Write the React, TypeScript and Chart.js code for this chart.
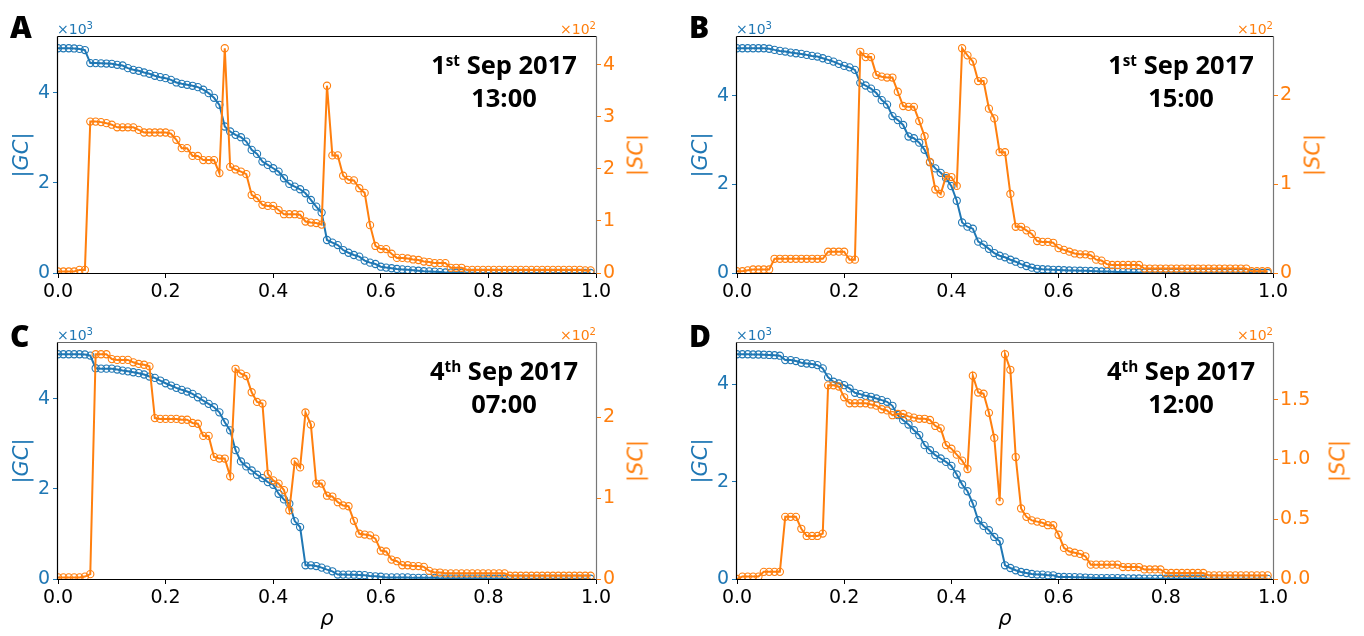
import React, { useEffect, useRef } from "react";
import { Chart, registerables } from "chart.js";

Chart.register(...registerables);

const BLUE = "#1f77b4";
const ORANGE = "#ff7f0e";

// rho grid: 0.00 .. 0.99, step 0.01
const RHO: number[] = Array.from({ length: 100 }, (_, i) => i / 100);

// Panel A — 1st Sep 2017 13:00
const GC_A = [
  4990, 4990, 4990, 4985, 4975, 4950, 4660, 4660, 4655, 4650,
  4644, 4622, 4607, 4548, 4511, 4489, 4452, 4422, 4378, 4348,
  4326, 4289, 4230, 4200, 4178, 4156, 4126, 4070, 3993, 3890,
  3733, 3252, 3141, 3067, 3015, 2918, 2733, 2644, 2474, 2400,
  2326, 2252, 2104, 1978, 1918, 1859, 1770, 1622, 1474, 1341,
  733, 675, 620, 510, 450, 400, 363, 275, 230, 200,
  140, 120, 105, 90, 80, 70, 60, 50, 40, 35,
  30, 20, 12, 8, 5, 4, 3, 3, 2, 2,
  2, 2, 1, 1, 1, 1, 1, 1, 1, 1,
  1, 1, 1, 1, 1, 1, 1, 1, 1, 1,
];
const SC_A = [
  3, 3, 3, 3, 6, 6, 291, 291, 290, 288,
  285, 280, 280, 280, 280, 275, 270, 270, 270, 270,
  270, 268, 256, 240, 240, 225, 225, 217, 217, 217,
  192, 432, 204, 199, 195, 190, 150, 144, 131, 129,
  129, 121, 113, 113, 113, 112, 99, 97, 96, 93,
  360, 226, 226, 187, 179, 178, 163, 154, 92, 52,
  46, 46, 37, 29, 29, 28, 26, 25, 22, 21,
  19, 19, 19, 10, 10, 10, 6, 6, 6, 6,
  6, 6, 6, 6, 6, 6, 6, 6, 6, 6,
  6, 6, 6, 6, 6, 6, 6, 6, 5, 5,
];

// Panel B — 1st Sep 2017 15:00
const GC_B = [
  5071, 5071, 5071, 5071, 5071, 5071, 5060, 5034, 5011, 4996,
  4973, 4958, 4943, 4921, 4898, 4883, 4845, 4808, 4770, 4718,
  4673, 4640, 4583, 4290, 4230, 4160, 4060, 3900, 3800, 3540,
  3450, 3340, 3080, 3040, 2940, 2780, 2500, 2360, 2260, 2140,
  1960, 1630, 1140, 1045, 1000, 707, 640, 545, 450, 390,
  354, 300, 255, 200, 158, 120, 95, 85, 80, 72,
  68, 62, 58, 55, 52, 50, 45, 40, 35, 32,
  30, 25, 20, 15, 12, 10, 8, 5, 5, 4,
  4, 3, 3, 3, 2, 2, 2, 2, 2, 2,
  1, 1, 1, 1, 1, 1, 1, 1, 1, 1,
];
const SC_B = [
  2, 2, 3, 4, 4, 4, 4, 16, 16, 16,
  16, 16, 16, 16, 16, 16, 16, 24, 24, 24,
  24, 15, 15, 249, 243, 243, 223, 221, 220, 220,
  204, 188, 187, 187, 171, 154, 125, 94, 89, 109,
  108, 98, 253, 245, 238, 216, 216, 185, 174, 136,
  136, 89, 52, 52, 48, 44, 36, 35, 35, 34,
  28, 26, 24, 22, 21, 21, 20, 15, 14, 10,
  9, 9, 9, 9, 9, 9, 5, 5, 5, 5,
  5, 5, 5, 5, 5, 5, 5, 5, 5, 5,
  5, 5, 5, 5, 5, 5, 2, 2, 2, 2,
];

// Panel C — 4th Sep 2017 07:00
const GC_C = [
  4990, 4990, 4990, 4990, 4990, 4985, 4960, 4680, 4670, 4670,
  4670, 4650, 4627, 4610, 4590, 4570, 4540, 4495, 4465, 4406,
  4346, 4295, 4244, 4200, 4162, 4111, 4035, 3962, 3889, 3814,
  3700, 3480, 3300, 2860, 2610, 2499, 2410, 2315, 2240, 2151,
  2093, 1893, 1767, 1672, 1286, 1153, 304, 304, 288, 253,
  208, 171, 100, 98, 97, 95, 90, 85, 65, 60,
  50, 35, 35, 35, 35, 35, 25, 25, 25, 25,
  25, 10, 10, 10, 10, 10, 10, 10, 10, 10,
  5, 5, 5, 5, 5, 5, 5, 5, 5, 5,
  5, 5, 5, 5, 5, 5, 5, 5, 5, 5,
];
const SC_C = [
  2, 2, 2, 2, 2, 3, 6, 278, 278, 278,
  272, 271, 271, 271, 268, 266, 265, 263, 199, 198,
  198, 198, 198, 197, 197, 193, 192, 177, 177, 151,
  149, 149, 127, 260, 254, 251, 231, 219, 217, 130,
  122, 118, 110, 85, 145, 138, 206, 191, 118, 118,
  103, 102, 95, 91, 90, 72, 56, 55, 54, 50,
  35, 34, 24, 22, 17, 17, 16, 16, 15, 10,
  8, 8, 7, 7, 7, 7, 7, 7, 7, 7,
  7, 7, 7, 7, 4, 4, 4, 4, 4, 4,
  4, 4, 4, 4, 4, 4, 4, 4, 4, 4,
];

// Panel D — 4th Sep 2017 12:00
const GC_D = [
  4620, 4620, 4620, 4615, 4615, 4610, 4605, 4600, 4590, 4500,
  4500, 4480, 4444, 4430, 4417, 4397, 4329, 4144, 4054, 4020,
  3985, 3917, 3827, 3800, 3765, 3745, 3711, 3677, 3642, 3560,
  3368, 3265, 3176, 3059, 2957, 2751, 2648, 2545, 2477, 2407,
  2325, 2148, 1942, 1804, 1551, 1208, 1091, 1002, 864, 776,
  282, 226, 179, 144, 123, 103, 91, 91, 76, 76,
  41, 41, 40, 38, 35, 30, 25, 20, 20, 20,
  20, 18, 15, 12, 10, 10, 8, 8, 6, 6,
  5, 5, 5, 5, 5, 5, 5, 5, 5, 5,
  3, 3, 3, 3, 3, 3, 3, 3, 3, 3,
];
const SC_D = [
  0, 2, 2, 2, 2, 6, 6, 6, 6, 52,
  52, 52, 42, 36, 36, 36, 38, 162, 162, 161,
  152, 147, 147, 147, 147, 146, 145, 142, 141, 137,
  138, 138, 136, 135, 134, 134, 133, 128, 126, 112,
  109, 104, 99, 92, 170, 156, 155, 139, 118, 65,
  188, 175, 102, 59, 52, 49, 48, 47, 45, 45,
  37, 26, 23, 22, 21, 19, 12, 12, 12, 12,
  12, 12, 10, 10, 10, 10, 8, 8, 8, 8,
  5, 5, 5, 5, 5, 5, 5, 5, 3, 3,
  3, 3, 3, 3, 3, 3, 3, 3, 3, 3,
];

// tick values
const X_TICKS = [0, 0.2, 0.4, 0.6, 0.8, 1.0];
const GC_TICKS = [0, 2000, 4000];
const SC_TICKS_A = [0, 100, 200, 300, 400];
const SC_TICKS_BC = [0, 100, 200];
const SC_TICKS_D = [0, 50, 100, 150];

type PanelCfg = {
  letter: string;
  gc: number[];
  sc: number[];
  scTicks: number[];
  scDecimals: number;
  dateMain: string;
  dateSup: string;
  time: string;
  canvas: { x: number; y: number; w: number; h: number };
  area: { l: number; r: number; t: number; b: number };
  xLabel: boolean;
  scTitleX: number;
  topColor: string;
};

const PANELS: PanelCfg[] = [
  {
    letter: "A", gc: GC_A, sc: SC_A, scTicks: SC_TICKS_A, scDecimals: 0,
    dateMain: "1", dateSup: "st", time: "13:00",
    canvas: { x: 0, y: 0, w: 682, h: 318 },
    area: { l: 58, r: 596, t: 37, b: 273 }, xLabel: false, scTitleX: 636, topColor: "#000",
  },
  {
    letter: "B", gc: GC_B, sc: SC_B, scTicks: SC_TICKS_BC, scDecimals: 0,
    dateMain: "1", dateSup: "st", time: "15:00",
    canvas: { x: 682, y: 0, w: 682, h: 318 },
    area: { l: 737, r: 1273, t: 37, b: 273 }, xLabel: false, scTitleX: 1313, topColor: "#000",
  },
  {
    letter: "C", gc: GC_C, sc: SC_C, scTicks: SC_TICKS_BC, scDecimals: 0,
    dateMain: "4", dateSup: "th", time: "07:00",
    canvas: { x: 0, y: 318, w: 682, h: 318 },
    area: { l: 58, r: 596, t: 343, b: 579 }, xLabel: true, scTitleX: 636, topColor: "#666",
  },
  {
    letter: "D", gc: GC_D, sc: SC_D, scTicks: SC_TICKS_D, scDecimals: 1,
    dateMain: "4", dateSup: "th", time: "12:00",
    canvas: { x: 682, y: 318, w: 682, h: 318 },
    area: { l: 737, r: 1273, t: 343, b: 579 }, xLabel: true, scTitleX: 1338, topColor: "#666",
  },
];

const TICK_FONT = { family: "'DejaVu Sans', sans-serif", size: 19 };

const framePlugin = {
  id: "frame",
  afterDatasetsDraw(chart: any, _args: any, opts: any) {
    const { ctx, chartArea } = chart;
    const l = Math.round(chartArea.left) - 0.5;
    const r = Math.round(chartArea.right) + 0.5;
    const t = Math.round(chartArea.top) - 0.5;
    const b = Math.round(chartArea.bottom) + 0.5;
    ctx.save();
    ctx.lineWidth = 1.2;
    ctx.strokeStyle = opts.topColor || "#000";
    ctx.beginPath(); ctx.moveTo(l, t); ctx.lineTo(r, t); ctx.stroke();
    ctx.strokeStyle = "#000";
    ctx.beginPath(); ctx.moveTo(l, t); ctx.lineTo(l, b); ctx.lineTo(r, b); ctx.stroke();
    ctx.strokeStyle = "#777";
    ctx.beginPath(); ctx.moveTo(r, t); ctx.lineTo(r, b); ctx.stroke();
    ctx.restore();
  },
};

function Panel({ p }: { p: PanelCfg }) {
  const ref = useRef<HTMLCanvasElement>(null);
  useEffect(() => {
    const c = p.canvas;
    const leftW = p.area.l - c.x;
    const rightW = c.x + c.w - p.area.r;
    const padTop = p.area.t - c.y;
    const xH = c.y + c.h - p.area.b;
    const gcMax = Math.max(...p.gc) * 1.05;
    const scMax = Math.max(...p.sc) * 1.05;
    const common = {
      borderWidth: 2,
      pointRadius: 3.6,
      pointBorderWidth: 1.1,
      pointBackgroundColor: "rgba(0,0,0,0)",
      tension: 0,
      fill: false,
    };
    const chart = new Chart(ref.current as HTMLCanvasElement, {
      type: "line",
      data: {
        datasets: [
          {
            ...common,
            label: "|SC|",
            data: RHO.map((x, i) => ({ x, y: p.sc[i] })),
            yAxisID: "y1",
            borderColor: ORANGE,
            pointBorderColor: ORANGE,
            order: 0,
          },
          {
            ...common,
            label: "|GC|",
            data: RHO.map((x, i) => ({ x, y: p.gc[i] })),
            yAxisID: "y",
            borderColor: BLUE,
            pointBorderColor: BLUE,
            order: 1,
          },
        ],
      } as any,
      options: {
        responsive: false,
        animation: false,
        devicePixelRatio: 1,
        layout: { padding: { top: padTop, left: 0, right: 0, bottom: 0 } },
        plugins: {
          legend: { display: false },
          tooltip: { enabled: false },
          frame: { topColor: p.topColor },
        } as any,
        scales: {
          x: {
            type: "linear",
            min: 0,
            max: 1,
            afterBuildTicks: (s: any) => {
              s.ticks = X_TICKS.map((v) => ({ value: v }));
            },
            ticks: {
              callback: (v: any) => Number(v).toFixed(1),
              color: "#000",
              font: TICK_FONT,
              padding: 3,
              maxRotation: 0,
              autoSkip: false,
            },
            grid: { drawOnChartArea: false, drawTicks: true, tickLength: 5, color: "#000", tickColor: "#000" },
            border: { display: false },
            afterFit: (s: any) => { s.height = xH; },
          },
          y: {
            type: "linear",
            position: "left",
            min: 0,
            max: gcMax,
            afterBuildTicks: (s: any) => {
              s.ticks = GC_TICKS.map((v) => ({ value: v }));
            },
            ticks: {
              callback: (v: any) => String(Number(v) / 1000),
              color: BLUE,
              font: TICK_FONT,
              padding: 3,
              autoSkip: false,
            },
            grid: { drawOnChartArea: false, drawTicks: true, tickLength: 5, color: BLUE, tickColor: BLUE },
            border: { display: false },
            afterFit: (s: any) => { s.width = leftW; },
          },
          y1: {
            type: "linear",
            position: "right",
            min: 0,
            max: scMax,
            afterBuildTicks: (s: any) => {
              s.ticks = p.scTicks.map((v) => ({ value: v }));
            },
            ticks: {
              callback: (v: any) => (Number(v) / 100).toFixed(p.scDecimals),
              color: ORANGE,
              font: TICK_FONT,
              padding: 2,
              autoSkip: false,
            },
            grid: { drawOnChartArea: false, drawTicks: true, tickLength: 5, color: ORANGE, tickColor: ORANGE },
            border: { display: false },
            afterFit: (s: any) => { s.width = rightW; },
          },
        },
      } as any,
      plugins: [framePlugin],
    });
    return () => chart.destroy();
  }, [p]);

  const c = p.canvas;
  const a = p.area;
  const cx = a.r - 92;
  const midY = (a.t + a.b) / 2;
  const dj = "'DejaVu Sans', sans-serif";
  const os = "'Open Sans', sans-serif";
  const letterTop = a.t < 100 ? a.t - 25 : a.t - 22;
  return (
    <>
      <canvas
        ref={ref}
        width={c.w}
        height={c.h}
        style={{ position: "absolute", left: c.x, top: c.y, width: c.w, height: c.h }}
      />
      {/* panel letter */}
      <div style={{ position: "absolute", left: a.l - 48, top: letterTop, font: `800 30px ${os}`, lineHeight: 1, color: "#000" }}>
        {p.letter}
      </div>
      {/* offset texts */}
      <div style={{ position: "absolute", left: a.l - 1, top: a.t - 15, font: `14px ${dj}`, lineHeight: 1, color: BLUE, whiteSpace: "nowrap" }}>
        ×10<span style={{ fontSize: "0.72em", position: "relative", top: "-0.45em" }}>3</span>
      </div>
      <div style={{ position: "absolute", right: 1364 - a.r, top: a.t - 15, font: `14px ${dj}`, lineHeight: 1, color: ORANGE, whiteSpace: "nowrap" }}>
        ×10<span style={{ fontSize: "0.72em", position: "relative", top: "-0.45em" }}>2</span>
      </div>
      {/* axis titles */}
      <div style={{ position: "absolute", left: a.l - 37, top: midY, transform: "translate(-50%, -50%) rotate(-90deg)", font: `21px ${dj}`, lineHeight: 1, color: BLUE, whiteSpace: "nowrap" }}>
        |<i>GC</i>|
      </div>
      <div style={{ position: "absolute", left: p.scTitleX, top: midY, transform: "translate(-50%, -50%) rotate(-90deg)", font: `21px ${dj}`, lineHeight: 1, color: ORANGE, whiteSpace: "nowrap" }}>
        |<i>SC</i>|
      </div>
      {/* annotation */}
      <div style={{ position: "absolute", left: cx, top: a.t + 15, transform: "translateX(-50%)", font: `700 25.5px ${os}`, lineHeight: 1, color: "#000", whiteSpace: "nowrap" }}>
        {p.dateMain}
        <span style={{ fontSize: "0.6em", position: "relative", top: "-0.55em" }}>{p.dateSup}</span> Sep 2017
      </div>
      <div style={{ position: "absolute", left: cx, top: a.t + 48, transform: "translateX(-50%)", font: `700 25.5px ${os}`, lineHeight: 1, color: "#000", whiteSpace: "nowrap" }}>
        {p.time}
      </div>
      {p.xLabel && (
        <div style={{ position: "absolute", left: (a.l + a.r) / 2, top: 608, transform: "translateX(-50%)", font: `italic 21px ${dj}`, lineHeight: 1, color: "#000" }}>
          ρ
        </div>
      )}
    </>
  );
}

export default function App() {
  return (
    <div style={{ position: "absolute", left: 0, top: 0, width: 1364, height: 636, background: "#fff", overflow: "hidden" }}>
      {PANELS.map((p) => (
        <Panel key={p.letter} p={p} />
      ))}
    </div>
  );
}
